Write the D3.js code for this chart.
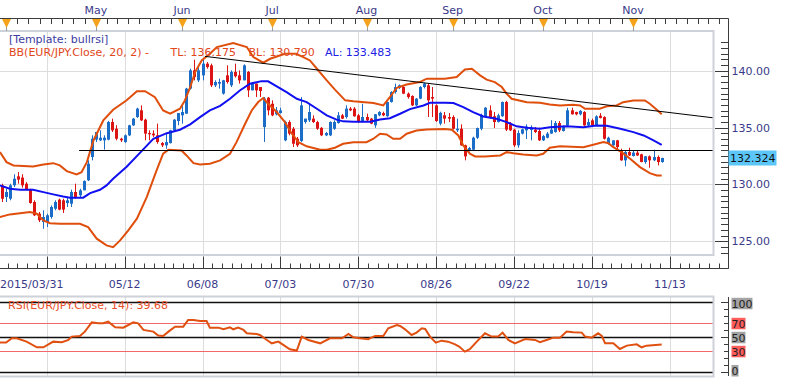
<!DOCTYPE html>
<html>
<head>
<meta charset="utf-8">
<script src="https://cdn.jsdelivr.net/npm/d3@7"></script>
<style>
body { margin: 0; background: #fff; }
svg { display: block; font-family: "DejaVu Sans", Verdana, sans-serif; font-size: 11px; }
</style>
</head>
<body>
<div id="chart"></div>
<script>
// EUR/JPY daily candles, 2015/03/31 .. 2015/11/11 (one entry per trading day)
const opens = [129.92,128.89,128.74,129.92,130.71,130.60,130.06,129.54,128.45,127.42,126.69,126.69,127.13,127.86,128.66,128.60,128.36,128.30,129.33,129.04,
  129.48,130.36,132.41,133.94,133.88,133.88,133.94,135.49,134.90,134.02,133.73,134.32,135.20,135.93,136.52,135.70,134.52,134.47,134.32,133.64,
  133.44,133.64,134.76,135.58,136.08,136.23,138.43,140.04,139.16,139.60,140.63,140.48,138.72,138.87,137.99,139.60,138.72,139.90,139.60,139.16,
  139.90,138.28,138.87,138.57,135.05,137.63,137.10,136.17,136.28,133.88,135.49,134.90,134.02,133.82,135.49,135.64,135.79,135.49,134.98,134.32,
  134.32,134.90,135.40,136.08,135.93,136.67,136.67,136.08,135.49,135.93,135.79,135.20,136.08,136.28,136.00,137.25,138.13,138.50,138.57,137.99,
  137.78,136.96,137.55,138.57,138.72,137.69,136.96,135.35,136.08,135.93,135.93,134.76,134.90,133.44,133.00,133.06,134.11,134.90,136.00,136.52,
  136.00,135.49,136.00,137.25,135.29,134.82,133.44,134.47,134.76,134.82,134.82,134.70,133.88,134.11,134.47,134.61,135.40,134.70,135.20,136.52,
  136.37,136.17,136.37,135.20,135.64,135.20,136.05,135.93,133.58,133.44,133.88,132.99,132.12,132.85,132.50,132.80,132.65,131.97,132.47,132.12,
  132.41,131.97];
const highs = [130.06,129.62,130.06,130.89,131.09,130.89,130.20,129.62,128.60,127.57,127.72,127.42,128.15,128.60,128.75,128.74,128.89,129.54,130.06,129.62,
  130.36,132.12,134.32,134.61,134.76,134.32,135.58,135.79,135.20,134.11,134.40,135.25,135.85,136.75,136.96,135.79,134.76,134.76,135.35,133.73,
  134.47,134.80,135.75,136.28,136.96,138.50,140.19,140.98,140.48,141.07,140.77,140.63,139.16,139.31,139.20,140.48,140.04,140.63,140.04,140.57,
  139.98,139.01,138.87,138.57,137.69,137.69,137.40,136.81,136.75,135.60,135.64,135.05,134.17,137.69,135.79,137.10,136.08,135.60,135.05,134.61,
  135.55,135.64,136.37,136.20,136.96,136.81,136.81,136.20,137.10,136.23,135.85,136.20,136.45,136.40,137.30,138.20,138.87,138.80,138.65,138.10,
  137.85,137.60,138.65,138.95,138.87,138.57,137.05,136.40,136.37,136.28,136.08,135.79,135.29,133.50,133.30,134.20,135.00,136.23,136.81,136.96,
  136.37,136.23,137.30,137.35,135.49,134.90,134.76,134.90,135.29,135.20,135.05,135.00,134.35,134.61,135.65,135.58,135.58,135.20,136.75,136.75,
  136.40,136.55,136.45,135.79,135.79,136.08,136.28,136.00,134.20,133.88,133.92,133.14,133.00,133.23,133.00,132.95,132.70,132.50,132.55,133.06,
  132.55,132.35];
const lows = [128.45,128.45,128.60,129.77,130.06,129.71,129.48,128.30,127.22,126.69,126.10,126.25,126.98,127.72,127.72,127.48,128.01,128.01,128.74,128.89,
  129.48,130.30,132.12,133.73,133.82,133.06,133.88,134.61,133.88,133.73,133.65,134.25,135.15,135.85,135.58,133.88,133.88,134.17,133.58,133.29,
  133.14,133.60,134.70,135.20,135.35,136.20,138.35,139.16,139.01,139.16,140.19,138.57,138.57,138.43,137.90,138.87,138.57,139.40,138.87,139.16,
  137.69,138.28,137.69,137.69,133.73,136.08,136.00,136.08,136.23,133.80,134.32,133.29,133.29,133.73,135.35,135.49,135.40,134.80,134.25,134.25,
  134.25,134.80,135.35,135.75,135.79,136.45,135.96,135.40,135.45,135.58,135.30,134.98,136.00,136.00,135.95,137.20,137.99,138.40,137.95,137.55,
  136.90,136.90,137.50,138.45,135.93,135.93,135.50,135.20,135.35,135.49,134.82,134.61,133.40,132.12,132.90,133.00,134.00,134.76,135.90,135.79,
  134.96,135.45,135.95,134.70,134.70,133.29,133.23,134.40,134.00,133.88,134.52,133.82,133.82,134.05,134.45,134.55,134.61,134.65,135.10,136.15,
  136.08,136.08,135.15,135.10,135.15,135.15,135.80,133.94,133.50,133.40,133.00,132.08,131.60,132.50,132.45,132.50,131.95,131.82,131.47,132.05,
  131.67,131.90];
const closes = [128.74,129.33,129.92,130.50,130.42,129.92,129.54,128.36,127.28,126.84,127.13,127.28,128.01,128.45,127.78,127.78,128.60,129.33,128.89,129.48,
  130.30,131.82,134.02,134.61,134.11,134.11,135.49,134.76,134.02,133.88,134.32,135.20,135.79,136.67,135.64,134.47,134.41,134.32,133.73,133.44,
  133.73,134.76,135.70,136.28,136.37,138.43,140.04,139.45,140.04,140.63,140.33,138.72,139.01,139.01,139.16,139.01,139.90,139.52,139.16,140.48,
  138.28,138.87,138.28,138.22,137.55,136.52,136.08,136.52,136.52,135.49,134.47,133.58,133.44,136.96,135.79,136.37,135.49,134.90,134.32,134.52,
  135.49,135.49,136.08,135.79,136.67,136.52,136.00,135.49,135.93,135.64,135.35,136.17,136.37,136.08,137.25,138.13,138.57,138.72,137.99,137.69,
  136.96,137.55,138.57,138.87,137.40,137.55,135.58,136.30,135.79,135.79,134.90,134.90,133.44,132.47,133.20,134.11,134.96,136.08,136.75,135.93,
  135.49,136.08,137.25,134.82,134.76,133.44,134.52,134.85,135.10,134.90,134.61,133.88,134.25,134.47,134.82,135.40,134.76,135.05,136.52,136.17,
  136.17,136.47,135.20,135.49,135.20,135.99,135.85,134.02,134.11,133.88,133.29,132.12,132.85,132.55,132.80,132.55,131.97,132.47,132.12,132.41,
  131.97,132.32];

const bbUpper = [[-0.4,132.84],[1.2,131.96],[2.9,131.67],[7.7,131.58],[10.2,131.76],[12.6,131.87],[14.2,131.67],[15.9,131.17],[18.3,130.88],[19.5,131.08],
  [20.8,131.96],[22.4,133.87],[24.8,135.63],[27.2,136.57],[30.5,137.40],[33.0,138.21],[35.0,138.21],[37.4,137.68],[39.4,136.51],[41.1,136.22],
  [43.5,136.66],[44.7,137.39],[46.0,138.56],[47.2,139.89],[48.8,140.91],[50.8,141.50],[52.5,142.09],[56.5,142.44],[59.8,142.09],[61.4,141.21],
  [63.8,140.71],[65.5,141.06],[69.1,141.50],[71.8,141.50],[73.6,141.21],[75.2,140.91],[76.9,140.18],[79.3,139.15],[81.3,138.34],[83.8,137.40],
  [85.8,137.31],[90.7,137.16],[93.1,136.95],[94.7,137.68],[96.4,138.51],[98.8,138.80],[102.0,139.01],[103.7,139.31],[108.1,139.31],[111.0,139.45],
  [113.0,140.12],[114.7,140.18],[116.7,139.60],[118.3,139.22],[120.3,139.00],[122.0,138.57],[123.2,137.98],[124.4,137.54],[128.1,137.24],[131.3,137.19],
  [133.7,137.04],[136.2,136.95],[139.4,137.01],[141.1,136.95],[142.3,136.66],[145.9,136.66],[147.6,136.87],[150.0,136.95],[151.6,137.24],[154.1,137.39],
  [156.9,137.39],[158.1,137.10],[159.8,136.58],[161,136.18]];
const bbLower = [[-0.4,127.12],[2.0,127.36],[4.5,127.47],[6.9,127.56],[8.6,127.42],[10.2,126.83],[11.8,126.59],[14.2,126.54],[19.1,126.54],[21.1,126.24],
  [23.2,125.22],[25.6,124.63],[27.2,124.48],[28.9,125.07],[30.9,125.95],[33.0,126.98],[35.4,128.88],[37.8,131.23],[39.4,132.70],[40.7,133.05],
  [43.9,132.99],[45.1,132.55],[46.8,131.87],[48.4,131.76],[50.8,131.82],[53.3,132.11],[55.7,132.70],[57.3,133.72],[59.4,135.34],[61.0,136.51],
  [62.6,137.25],[63.8,137.60],[65.0,137.10],[67.1,136.37],[69.1,135.48],[70.8,134.46],[72.4,133.72],[74.4,133.35],[77.7,133.05],[79.3,133.05],
  [81.3,133.23],[83.3,133.58],[85.8,133.72],[89.0,133.72],[90.7,134.02],[92.3,134.46],[93.9,134.40],[95.5,134.02],[97.2,134.02],[98.8,134.46],
  [101.2,134.75],[103.7,134.84],[108.1,134.87],[109.8,134.81],[111.4,134.31],[112.6,133.43],[114.2,132.70],[115.5,132.46],[117.9,132.46],[121.6,132.55],
  [123.2,132.84],[124.8,132.75],[127.2,132.64],[130.5,132.55],[132.1,132.70],[133.7,133.23],[136.2,133.35],[141.9,133.28],[144.3,133.49],[146.8,133.72],
  [148.0,133.63],[149.2,133.28],[151.2,132.84],[153.3,132.26],[155.7,131.52],[158.1,130.99],[159.8,130.79],[161,130.79]];
const bbMid = [[-0.4,129.91],[2.0,129.62],[4.5,129.53],[7.7,129.53],[10.2,129.32],[12.6,129.12],[15.0,128.94],[16.7,128.83],[19.9,128.83],[21.6,129.23],
  [24.0,129.53],[25.6,129.91],[27.2,130.50],[30.5,131.55],[33.8,132.80],[37.0,134.02],[40.3,134.51],[43.5,134.81],[46.0,135.28],[48.4,135.92],
  [50.8,136.51],[53.3,136.91],[55.7,137.54],[58.1,138.27],[60.6,138.86],[63.4,139.09],[65.0,139.07],[67.1,138.63],[69.5,138.12],[72.0,137.54],
  [74.4,137.25],[76.9,136.66],[79.3,136.07],[81.7,135.70],[83.3,135.55],[85.8,135.52],[89.9,135.52],[92.3,135.72],[94.7,135.83],[97.2,136.22],
  [99.6,136.63],[102.9,136.95],[104.5,137.19],[108.1,137.19],[110.2,137.16],[112.6,136.80],[115.0,136.36],[117.5,135.98],[120.7,135.78],[123.2,135.48],
  [125.6,135.11],[128.1,134.99],[131.3,134.90],[133.7,135.04],[137.8,135.11],[141.9,135.04],[145.1,135.19],[147.6,135.17],[150.9,134.90],[154.1,134.60],
  [156.6,134.31],[159.0,133.87],[161,133.48]];

const rsi = [[-0.4,42.4],[1.1,42.4],[2.5,48.6],[3.7,48.6],[6.1,43.8],[8.6,35.7],[10.2,35.7],[12.6,43.8],[14.7,42.9],[16.3,46.2],
  [17.1,51.0],[19.1,51.9],[20.3,58.1],[22.0,71.4],[23.6,70.0],[24.8,70.0],[26.0,72.4],[27.7,64.3],[29.7,63.8],[32.1,71.4],
  [33.3,70.0],[34.6,60.5],[37.0,58.1],[38.2,52.4],[39.4,51.9],[40.7,58.1],[42.3,65.2],[44.3,65.2],[45.5,74.8],[46.8,74.8],
  [48.4,73.3],[50.0,73.3],[50.8,63.8],[52.9,63.8],[54.1,61.4],[55.7,64.3],[56.5,61.4],[57.7,63.8],[59.0,60.5],[59.8,55.7],
  [62.2,54.8],[63.0,53.3],[64.7,46.2],[65.9,41.4],[67.5,43.8],[68.7,39.1],[70.3,32.9],[72.0,31.0],[73.2,51.0],[74.8,46.2],
  [77.7,41.4],[80.1,48.6],[83.0,48.6],[84.6,54.8],[85.8,50.0],[87.4,48.6],[89.4,47.2],[91.1,51.9],[93.1,51.9],[94.3,62.9],
  [96.4,67.6],[97.2,66.2],[98.4,61.4],[100.0,53.3],[101.2,56.7],[102.5,62.9],[103.3,61.9],[104.5,51.0],[105.9,42.4],[107.3,45.2],
  [108.9,43.8],[110.6,40.0],[111.6,36.7],[113.0,29.5],[114.2,32.9],[115.9,43.8],[117.9,55.7],[119.5,51.0],[121.1,51.0],[122.2,56.7],
  [123.6,46.2],[125.2,41.4],[127.7,47.6],[130.1,46.2],[131.3,42.9],[132.9,46.2],[134.6,49.5],[136.2,49.5],[137.8,58.1],[139.4,57.1],
  [141.5,56.7],[142.3,51.0],[143.9,49.5],[145.5,55.7],[146.4,51.9],[147.2,41.4],[149.2,41.4],[150.8,33.3],[152.5,38.1],[154.9,40.0],
  [156.1,35.7],[157.3,38.1],[161,39.7]];

// drawn trend line and horizontal line, [bar, price]
const trendLine = [[49.6,141.27],[173.6,135.86]];
const supportLine = [[18.9,133.0],[173.6,133.0]];

// axes
const priceTicks = [125, 130, 135, 140];
const rsiLevels = [100, 70, 50, 30, 0];
const dateIdx = [30, 49, 68, 87, 106, 125, 144, 163];
const dateLabels = ["05/12", "06/08", "07/03", "07/30", "08/26", "09/22", "10/19", "11/13"];
const firstDateLabel = "2015/03/31";
const monthIdx = [1, 23, 44, 66, 89, 110, 132, 154, 175];
const monthLabels = ["Apr", "May", "Jun", "Jul", "Aug", "Sep", "Oct", "Nov", "Dec"];
const lastPrice = 132.324;

const W = 786, H = 378;
const plotR = 713.5, axisX = 728.5;
const mainTop = 31, mainBottom = 255;
const rsiTop = 296.5, rsiBottom = 376.5;
const textCol = "#3a3a8a", axisCol = "#3c3c3c", gridCol = "#dcdcdc", frameCol = "#cdd1d9";

let svg = d3.select("#chart").append("svg")
	.attr("width", W)
	.attr("height", H);

let x = d3.scaleLinear().domain([0, 161]).range([1.6, 661.7]);
let y = d3.scaleLinear().domain([125, 140]).range([241.2, 70.8]);
let yR = d3.scaleLinear().domain([0, 100]).range([372.3, 302.3]);

const px = v => Math.round(v) + 0.5;

// clip paths
let defs = svg.append("defs");
defs.append("clipPath").attr("id", "clipMain").append("rect")
	.attr("x", 0).attr("y", mainTop).attr("width", plotR).attr("height", mainBottom - mainTop);
defs.append("clipPath").attr("id", "clipRsi").append("rect")
	.attr("x", 0).attr("y", rsiTop).attr("width", plotR).attr("height", rsiBottom - rsiTop);

// ---- grid ----
let grid = svg.append("g");
grid.selectAll(".hgrid").data(priceTicks).enter().append("line")
	.attr("x1", 0).attr("x2", plotR)
	.attr("y1", d => px(y(d))).attr("y2", d => px(y(d)))
	.attr("stroke", gridCol);
let gridIdx = [11].concat(dateIdx);
grid.selectAll(".vgrid").data(gridIdx).enter().append("line")
	.attr("x1", d => px(x(d))).attr("x2", d => px(x(d)))
	.attr("y1", mainTop).attr("y2", mainBottom)
	.attr("stroke", gridCol);
grid.selectAll(".vgrid2").data(gridIdx).enter().append("line")
	.attr("x1", d => px(x(d))).attr("x2", d => px(x(d)))
	.attr("y1", rsiTop).attr("y2", rsiBottom)
	.attr("stroke", gridCol);

// ---- candles ----
let candles = opens.map((o, i) => ({i: i, o: o, h: highs[i], l: lows[i], c: closes[i]}));
let cg = svg.append("g").attr("clip-path", "url(#clipMain)");
let col = d => d.c >= d.o ? "#1b6dc8" : "#dc1414";
cg.selectAll(".wick").data(candles).enter().append("line")
	.attr("x1", d => px(x(d.i))).attr("x2", d => px(x(d.i)))
	.attr("y1", d => y(d.h)).attr("y2", d => y(d.l))
	.attr("stroke", col);
cg.selectAll(".body").data(candles).enter().append("rect")
	.attr("x", d => Math.round(x(d.i)) - 1)
	.attr("y", d => y(Math.max(d.o, d.c)))
	.attr("width", 3)
	.attr("height", d => Math.max(1.2, Math.abs(y(d.o) - y(d.c))))
	.attr("fill", col);

// ---- bands and lines ----
const line = d3.line().x(d => x(d[0])).y(d => y(d[1]));
const lg = svg.append("g").attr("clip-path", "url(#clipMain)");
lg.append("path").attr("d", line(bbUpper)).attr("fill", "none").attr("stroke", "#e04e0c").attr("stroke-width", 2);
lg.append("path").attr("d", line(bbLower)).attr("fill", "none").attr("stroke", "#e04e0c").attr("stroke-width", 2);
lg.append("path").attr("d", line(bbMid)).attr("fill", "none").attr("stroke", "#1010f0").attr("stroke-width", 2);
lg.append("path").attr("d", line(trendLine)).attr("fill", "none").attr("stroke", "#000").attr("stroke-width", 1);
lg.append("path").attr("d", line(supportLine.map(d => [d[0], y.invert(px(y(d[1])))]))).attr("fill", "none").attr("stroke", "#000").attr("stroke-width", 1.2);

// ---- RSI panel ----
let rg = svg.append("g").attr("clip-path", "url(#clipRsi)");
rg.selectAll(".lvl").data(rsiLevels).enter().append("line")
	.attr("x1", 0).attr("x2", plotR)
	.attr("y1", d => px(yR(d))).attr("y2", d => px(yR(d)))
	.attr("stroke", d => (d === 70 || d === 30) ? "#f06868" : "#111")
	.attr("stroke-width", d => (d === 70 || d === 30) ? 1 : 1.5);
const rline = d3.line().x(d => x(d[0])).y(d => yR(d[1]));
rg.append("path").attr("d", rline(rsi)).attr("fill", "none").attr("stroke", "#e05010").attr("stroke-width", 2);

// ---- panel frames ----
svg.append("rect").attr("x", -2).attr("y", mainTop).attr("width", plotR + 2).attr("height", mainBottom - mainTop)
	.attr("fill", "none").attr("stroke", frameCol).attr("stroke-width", 2);
svg.append("rect").attr("x", -2).attr("y", rsiTop).attr("width", plotR + 2).attr("height", rsiBottom - rsiTop)
	.attr("fill", "none").attr("stroke", frameCol).attr("stroke-width", 2);

// ---- axes lines ----
let ax = svg.append("g").attr("stroke", axisCol).attr("stroke-width", 1);
ax.append("line").attr("x1", 0).attr("x2", axisX).attr("y1", 18.5).attr("y2", 18.5);
ax.append("line").attr("x1", 0).attr("x2", axisX).attr("y1", 268.5).attr("y2", 268.5);
ax.append("line").attr("x1", axisX).attr("x2", axisX).attr("y1", 18.5).attr("y2", 268.5);
ax.append("line").attr("x1", axisX).attr("x2", axisX).attr("y1", 297).attr("y2", 376);

// right price axis ticks
let pTicks = d3.range(124, 142.51, 0.5);
ax.selectAll(".pt").data(pTicks).enter().append("line")
	.attr("x1", d => d % 5 === 0 ? 715 : 721).attr("x2", axisX)
	.attr("y1", d => px(y(d))).attr("y2", d => px(y(d)));

// RSI axis ticks
ax.selectAll(".rt").data(d3.range(0, 101, 10)).enter().append("line")
	.attr("x1", d => d % 50 === 0 ? 721 : 724).attr("x2", axisX)
	.attr("y1", d => px(yR(d))).attr("y2", d => px(yR(d)));

// bottom date ticks (major every 19 bars, 8 subdivisions)
let minorB = [];
for (let t = 11 - 19; t < 190; t += 19 / 8) minorB.push(t);
ax.selectAll(".bt").data(minorB.filter(t => x(t) >= 0 && x(t) <= axisX)).enter().append("line")
	.attr("x1", d => px(x(d))).attr("x2", d => px(x(d)))
	.attr("y1", 263.5).attr("y2", 268.5);
ax.selectAll(".btm").data(gridIdx).enter().append("line")
	.attr("x1", d => px(x(d))).attr("x2", d => px(x(d)))
	.attr("y1", 256.5).attr("y2", 268.5);

// top month ticks
let minorT = [];
for (let k = 0; k < monthIdx.length - 1; k++) {
	let a = x(monthIdx[k]), b = x(monthIdx[k + 1]);
	for (let s = 0; s < 8; s++) minorT.push(a + (b - a) * s / 8);
}
let lastA = x(monthIdx[monthIdx.length - 1]), stepT = (lastA - x(monthIdx[monthIdx.length - 2])) / 8;
for (let v = lastA; v <= axisX; v += stepT) minorT.push(v);
ax.selectAll(".tt").data(minorT.filter(v => v <= axisX)).enter().append("line")
	.attr("x1", d => px(d)).attr("x2", d => px(d))
	.attr("y1", 18.5).attr("y2", 24);

let months = monthIdx.slice(0, 8).map((m, k) => ({i: m, label: monthLabels[k]}));
svg.selectAll(".mline").data(months).enter().append("line")
	.attr("x1", d => px(x(d.i))).attr("x2", d => px(x(d.i)))
	.attr("y1", 19).attr("y2", 31)
	.attr("stroke", "#9a9a9a");
svg.selectAll(".tri").data(months).enter().append("path")
	.attr("d", d => {
		let cx = px(x(d.i));
		return "M" + (cx - 4.5) + ",19 L" + (cx + 4.5) + ",19 L" + cx + ",28 Z";
	})
	.attr("fill", "#f7a21b");
svg.selectAll(".mlab").data(months.slice(1)).enter().append("text")
	.attr("x", d => x(d.i))
	.attr("y", 13.5)
	.attr("text-anchor", "middle")
	.attr("fill", textCol)
	.text(d => d.label);

// bottom labels
svg.append("text").attr("x", 0).attr("y", 287.5).attr("fill", textCol).text(firstDateLabel);
svg.selectAll(".dlab").data(dateIdx).enter().append("text")
	.attr("x", d => x(d))
	.attr("y", 287.5)
	.attr("text-anchor", "middle")
	.attr("fill", textCol)
	.text((d, k) => dateLabels[k]);

// right price labels
svg.selectAll(".plab").data(priceTicks).enter().append("text")
	.attr("x", 731.5)
	.attr("y", d => y(d) + 4)
	.attr("fill", textCol)
	.text(d => d3.format(".2f")(d));

// last price box
svg.append("rect").attr("x", 728.5).attr("y", y(lastPrice) - 7.5).attr("width", 48).attr("height", 15)
	.attr("fill", "#5cc6f8");
svg.append("text").attr("x", 730).attr("y", y(lastPrice) + 4).attr("fill", "#111").text(d3.format(".3f")(lastPrice));

// RSI level labels (the 0 label is nudged up to stay inside the picture)
let rLabY = d => Math.min(yR(d) + (d === 100 ? 1 : 0), 370.5);
svg.selectAll(".rlabbg").data(rsiLevels).enter().append("rect")
	.attr("x", 731.5)
	.attr("y", d => rLabY(d) - 5.5)
	.attr("width", d => String(d).length * 7)
	.attr("height", 11.5)
	.attr("fill", d => (d === 70 || d === 30) ? "#ff5c5c" : "#a3a3a3");
svg.selectAll(".rlab").data(rsiLevels).enter().append("text")
	.attr("x", 731.5)
	.attr("y", d => rLabY(d) + 4.5)
	.attr("fill", "#222")
	.text(d => d);

// legend texts
svg.append("text").attr("x", 9).attr("y", 42.5).attr("fill", "#3c3ca0").text("[Template: bullrsi]");
svg.append("text").attr("x", 9).attr("y", 55.8).attr("fill", "#e2461a").text("BB(EUR/JPY.Close, 20, 2) -");
svg.append("text").attr("x", 170.5).attr("y", 55.8).attr("fill", "#e2461a").text("TL: 136.175");
svg.append("text").attr("x", 248.5).attr("y", 55.8).attr("fill", "#e2461a").text("BL: 130.790");
svg.append("text").attr("x", 325).attr("y", 55.8).attr("fill", "#2020e8").text("AL: 133.483");
svg.append("text").attr("x", 8).attr("y", 309).attr("fill", "#e8502a").text("RSI(EUR/JPY.Close, 14): 39.68");
</script>
</body>
</html>
